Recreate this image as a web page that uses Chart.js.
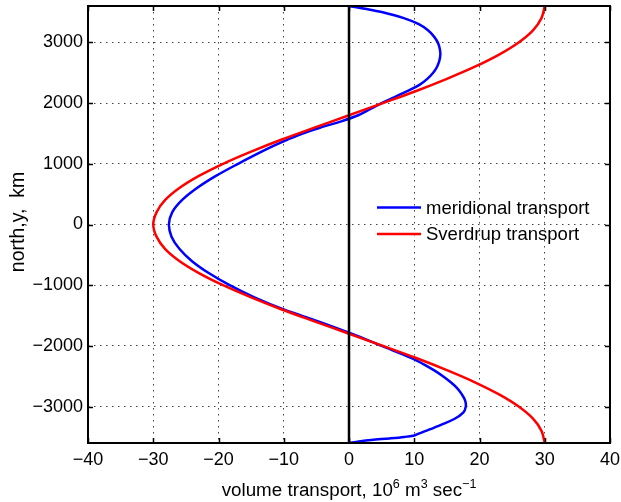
<!DOCTYPE html>
<html>
<head>
<meta charset="utf-8">
<title>Meridional and Sverdrup transport</title>
<script src="https://cdn.jsdelivr.net/npm/chart.js@4.4.1/dist/chart.umd.min.js"></script>
<style>
  html, body { margin: 0; padding: 0; background: #fff; }
  #wrap { width: 621px; height: 502px; }
</style>
</head>
<body>
<div id="wrap"><canvas id="transportChart" width="621" height="502"></canvas></div>
<script>
// meridional transport (10^6 m^3/s) against north coordinate (km)
const meridionalY = [-3600, -3575, -3550, -3525, -3500, -3475, -3450, -3400, -3300, -3200, -3100,
    -3000, -2900, -2800, -2700, -2600, -2500, -2400, -2300, -2200, -2000, -1800, -1600, -1400, -1200,
    -1000, -800, -600, -400, -200, 0, 200, 400, 600, 800, 1000, 1200, 1300, 1400, 1500, 1600, 1700,
    1800, 1900, 2000, 2100, 2200, 2300, 2400, 2500, 2600, 2700, 2800, 2900, 3000, 3100, 3200,
    3300, 3400, 3500, 3550, 3600];
const meridionalX = [0, 1.5, 3.4, 6.2, 8.5, 10.0, 10.6, 11.8, 14.1, 16.2, 17.5,
    17.9, 17.8, 17.3, 16.6, 15.6, 14.4, 13.0, 11.4, 9.6, 5.0, 0.4, -4.6, -10.0, -14.5,
    -18.3, -21.5, -24.1, -26.0, -27.2, -27.6, -27.1, -25.6, -23.3, -20.4, -17.0, -13.4, -11.5, -9.4, -7.1, -4.3, -1.2,
    1.4, 3.2, 5.0, 7.0, 9.0, 10.8, 12.0, 12.9, 13.5, 13.85, 14.0, 13.9, 13.6, 13.0, 12.1,
    10.7, 8.4, 5.0, 2.7, 0];

// Sverdrup transport
const sverdrupY = [-3600, -3400, -3200, -3000, -2800, -2600, -2400, -2200, -2000, -1800,
    -1600, -1400, -1200, -1000, -800, -600, -400, -200, 0, 200, 400, 600, 800, 1000,
    1200, 1400, 1600, 1800, 2000, 2200, 2400, 2600, 2800, 3000, 3200, 3400, 3600];
const sverdrupX = [30.0, 29.5, 28.2, 26.0, 23.0, 19.3, 15.0, 10.3, 5.2, 0,
    -5.2, -10.3, -15.0, -19.3, -23.0, -26.0, -28.2, -29.5, -30.0, -29.5, -28.2, -26.0, -23.0, -19.3,
    -15.0, -10.3, -5.2, 0, 5.2, 10.3, 15.0, 19.3, 23.0, 26.0, 28.2, 29.5, 30.0];

const xTicks = [-40, -30, -20, -10, 0, 10, 20, 30, 40];
const yTicks = [-3000, -2000, -1000, 0, 1000, 2000, 3000];
const xRange = [-40, 40];
const yRange = [-3600, 3600];

const FONT = "'Liberation Sans', Arial, Helvetica, sans-serif";

const toPoints = (xs, ys) => xs.map((x, i) => ({ x: x, y: ys[i] }));
const fmtTick = v => String(v).replace('-', '\u2212');

// frame, inward tick marks, legend and axis titles
const decorations = {
    id: 'decorations',
    afterDraw(chart) {
        const { ctx, chartArea: a, scales } = chart;
        const tickLen = 5;
        ctx.save();
        ctx.strokeStyle = '#000';
        ctx.lineWidth = 1.5;
        ctx.beginPath();
        xTicks.forEach(v => {
            const px = Math.round(scales.x.getPixelForValue(v)) + 0.5;
            ctx.moveTo(px, a.bottom); ctx.lineTo(px, a.bottom - tickLen);
            ctx.moveTo(px, a.top); ctx.lineTo(px, a.top + tickLen);
        });
        yTicks.forEach(v => {
            const py = Math.round(scales.y.getPixelForValue(v)) + 0.5;
            ctx.moveTo(a.left, py); ctx.lineTo(a.left + tickLen, py);
            ctx.moveTo(a.right, py); ctx.lineTo(a.right - tickLen, py);
        });
        ctx.stroke();

        ctx.lineWidth = 2;
        ctx.strokeRect(a.left, a.top, a.right - a.left, a.bottom - a.top);

        // legend, no box
        ctx.font = '18.5px ' + FONT;
        ctx.textBaseline = 'middle';
        ctx.textAlign = 'left';
        const entries = chart.data.datasets.filter(d => d.label);
        entries.forEach((d, i) => {
            const y = 207.5 + i * 26.5;
            ctx.strokeStyle = d.borderColor;
            ctx.lineWidth = 2.5;
            ctx.beginPath();
            ctx.moveTo(377, y); ctx.lineTo(421, y);
            ctx.stroke();
            ctx.fillStyle = '#000';
            ctx.fillText(d.label, 426, y + 1);
        });

        // x axis title with superscripts
        const parts = [
            ['volume transport, 10', false], ['6', true], [' m', false],
            ['3', true], [' sec', false], ['\u22121', true]
        ];
        const big = '18.8px ' + FONT, small = '12.5px ' + FONT;
        let total = 0;
        parts.forEach(([t, sup]) => { ctx.font = sup ? small : big; total += ctx.measureText(t).width; });
        let x = (a.left + a.right) / 2 - total / 2;
        const base = 496;
        ctx.textBaseline = 'alphabetic';
        parts.forEach(([t, sup]) => {
            ctx.font = sup ? small : big;
            ctx.fillText(t, x, sup ? base - 8 : base);
            x += ctx.measureText(t).width;
        });

        // y axis title
        ctx.font = '19.5px ' + FONT;
        ctx.translate(23.5, 222);
        ctx.rotate(-Math.PI / 2);
        ctx.textAlign = 'center';
        ctx.fillText('north,y,  km', 0, 0);
        ctx.restore();
    }
};

const tickFont = { family: FONT, size: 18 };

new Chart(document.getElementById('transportChart'), {
    type: 'scatter',
    data: {
        datasets: [
            {
                label: 'meridional transport',
                data: toPoints(meridionalX, meridionalY),
                borderColor: '#0000ff',
                order: 2
            },
            {
                label: 'Sverdrup transport',
                data: toPoints(sverdrupX, sverdrupY),
                borderColor: '#ff0000',
                order: 1
            },
            {
                // zero transport line
                data: toPoints([0, 0], yRange),
                borderColor: '#000000',
                tension: 0,
                order: 0
            }
        ]
    },
    options: {
        responsive: false,
        animation: false,
        showLine: true,
        datasets: {
            scatter: { borderWidth: 2.5, pointRadius: 0, tension: 0.35, fill: false }
        },
        layout: { padding: { top: 6, right: 11, left: 0, bottom: 0 } },
        plugins: {
            legend: { display: false },
            tooltip: { enabled: false }
        },
        scales: {
            x: {
                type: 'linear',
                min: xRange[0],
                max: xRange[1],
                afterBuildTicks: s => { s.ticks = xTicks.map(v => ({ value: v })); },
                afterFit: s => { s.height = 59; s.paddingLeft = 0; s.paddingRight = 0; },
                grid: { color: '#444', lineWidth: 1, drawTicks: false },
                border: { display: false, dash: [1.5, 4.5] },
                ticks: { font: tickFont, color: '#000', padding: 6, maxRotation: 0, autoSkip: false, callback: fmtTick }
            },
            y: {
                type: 'linear',
                min: yRange[0],
                max: yRange[1],
                afterBuildTicks: s => { s.ticks = yTicks.map(v => ({ value: v })); },
                afterFit: s => { s.width = 88; s.paddingTop = 0; s.paddingBottom = 0; },
                grid: { color: '#444', lineWidth: 1, drawTicks: false },
                border: { display: false, dash: [1.5, 4.5] },
                ticks: { font: tickFont, color: '#000', padding: 5, autoSkip: false, callback: fmtTick }
            }
        }
    },
    plugins: [decorations]
});
</script>
</body>
</html>
